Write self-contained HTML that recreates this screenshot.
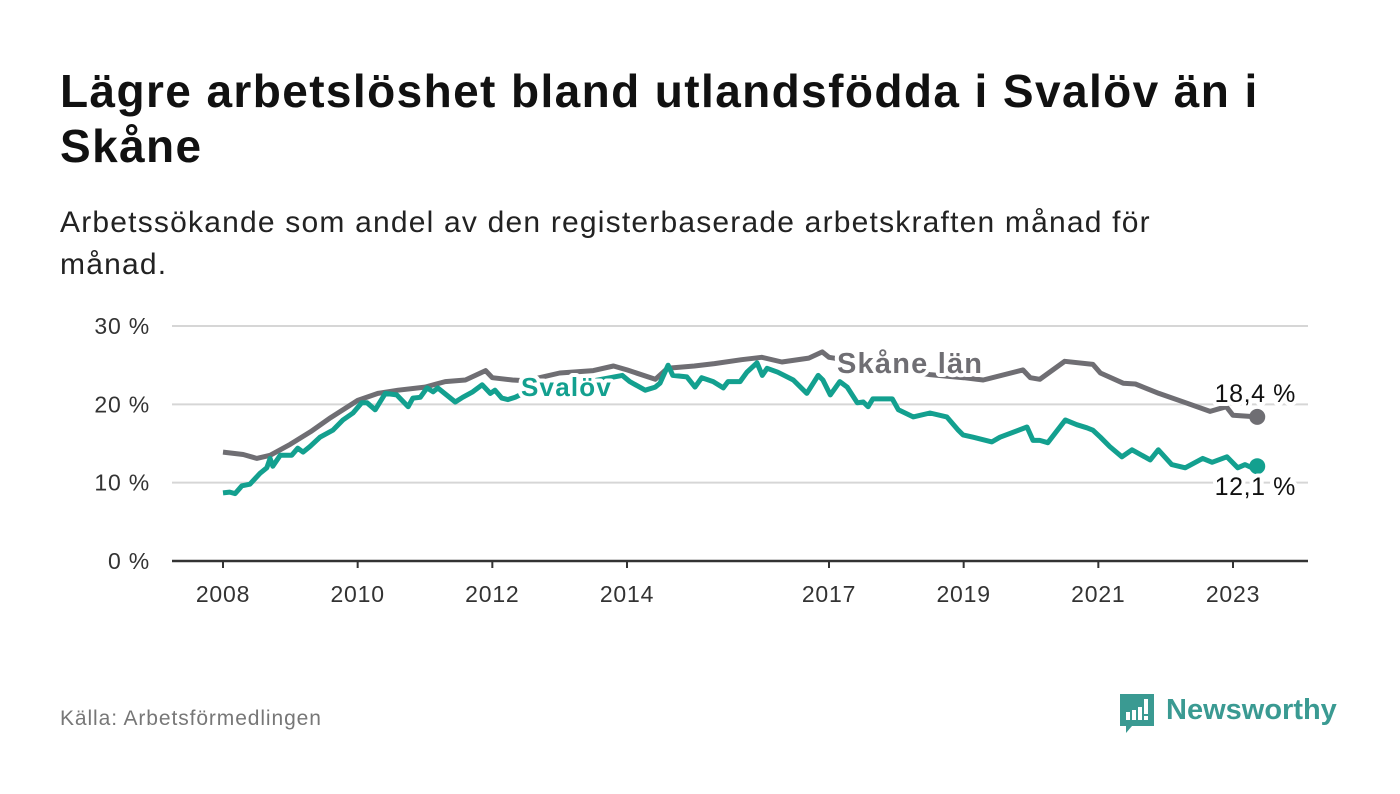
<!DOCTYPE html>
<html><head><meta charset="utf-8"><style>
body{margin:0;background:#fff;width:1400px;height:794px;overflow:hidden;font-family:"Liberation Sans",sans-serif;}
h1{position:absolute;left:60px;top:64px;margin:0;font-size:46px;letter-spacing:1.4px;line-height:55px;font-weight:bold;color:#111;width:1240px;}
.sub{position:absolute;left:60px;top:202px;font-size:30px;letter-spacing:1.2px;line-height:42px;color:#222;width:1200px;}
.src{position:absolute;left:60px;top:707px;font-size:21px;letter-spacing:0.9px;color:#777;}
svg{position:absolute;left:0;top:0;}
</style></head><body>
<h1>Lägre arbetslöshet bland utlandsfödda i Svalöv än i Skåne</h1>
<div class="sub">Arbetssökande som andel av den registerbaserade arbetskraften månad för månad.</div>
<div class="src">Källa: Arbetsförmedlingen</div>
<svg id="chart" width="1400" height="794">
<g>
<path d="M1120 694 h34 v32 h-22 l-6 7 v-7 h-6 z" fill="#3a9a92"/>
<rect x="1126" y="712" width="4" height="8" fill="#fff"/><rect x="1132" y="710" width="4" height="10" fill="#fff"/><rect x="1138" y="707" width="4" height="13" fill="#fff"/><rect x="1144" y="699" width="4" height="15" fill="#fff"/><rect x="1144" y="716" width="4" height="4" fill="#fff"/>
<text x="1166" y="719" font-size="29" font-weight="bold" fill="#3a9a92" font-family="Liberation Sans, sans-serif">Newsworthy</text>
</g>
</svg>
<script>
const yTicks=[0,10,20,30];
const xTicks=[2008,2010,2012,2014,2017,2019,2021,2023];
const skaneDates=[2008.0,2008.3,2008.5,2008.7,2009.0,2009.3,2009.6,2010.0,2010.3,2010.6,2011.0,2011.3,2011.6,2011.9,2012.0,2012.3,2012.5,2013.0,2013.5,2013.8,2014.0,2014.42,2014.6,2015.0,2015.3,2015.7,2016.0,2016.3,2016.7,2016.9,2017.0,2017.5,2018.0,2018.5,2019.0,2019.29,2019.88,2019.99,2020.13,2020.5,2020.92,2021.03,2021.37,2021.55,2021.9,2022.3,2022.66,2022.9,2023.0,2023.36];
const skaneVals=[13.9,13.6,13.1,13.5,14.9,16.5,18.3,20.5,21.4,21.8,22.2,22.9,23.1,24.3,23.4,23.1,23.0,24.0,24.3,24.9,24.4,23.2,24.6,24.9,25.2,25.7,26.0,25.4,25.9,26.7,26.0,25.3,24.5,23.8,23.4,23.1,24.4,23.4,23.2,25.5,25.1,24.0,22.7,22.6,21.4,20.2,19.1,19.7,18.6,18.4];
const svalovDates=[2008.0,2008.10,2008.18,2008.28,2008.40,2008.55,2008.65,2008.70,2008.74,2008.85,2009.02,2009.11,2009.19,2009.29,2009.44,2009.63,2009.78,2009.93,2010.06,2010.14,2010.26,2010.41,2010.58,2010.75,2010.82,2010.93,2011.03,2011.12,2011.19,2011.45,2011.56,2011.71,2011.85,2011.97,2012.04,2012.14,2012.23,2012.34,2012.6,2013.0,2013.5,2013.93,2014.04,2014.27,2014.42,2014.49,2014.61,2014.68,2014.89,2015.01,2015.11,2015.28,2015.43,2015.50,2015.68,2015.78,2015.93,2016.01,2016.08,2016.24,2016.47,2016.67,2016.84,2016.91,2017.02,2017.16,2017.27,2017.42,2017.51,2017.58,2017.65,2017.94,2018.03,2018.25,2018.50,2018.75,2018.92,2018.99,2019.14,2019.42,2019.54,2019.94,2020.03,2020.13,2020.25,2020.51,2020.68,2020.83,2020.92,2021.03,2021.17,2021.35,2021.50,2021.77,2021.89,2022.09,2022.29,2022.55,2022.69,2022.91,2023.07,2023.18,2023.28,2023.36];
const svalovVals=[8.7,8.8,8.6,9.6,9.8,11.2,11.9,13.1,12.1,13.5,13.5,14.4,13.9,14.6,15.8,16.7,18.0,18.9,20.2,20.2,19.3,21.4,21.2,19.7,20.8,20.9,22.1,21.6,22.1,20.3,20.9,21.6,22.5,21.4,21.8,20.8,20.6,20.9,22.0,22.5,23.0,23.7,22.9,21.8,22.2,22.7,25.0,23.7,23.5,22.2,23.4,22.9,22.1,22.9,22.9,24.1,25.3,23.7,24.6,24.1,23.1,21.4,23.7,23.1,21.2,22.9,22.2,20.2,20.3,19.7,20.7,20.7,19.3,18.4,18.9,18.4,16.7,16.1,15.8,15.2,15.8,17.1,15.4,15.4,15.1,18.0,17.4,17.0,16.7,15.8,14.6,13.3,14.2,12.9,14.2,12.3,11.9,13.1,12.6,13.3,11.9,12.3,11.9,12.1];
const NS='http://www.w3.org/2000/svg';
const svg=document.getElementById('chart');
const X=t=>223+(t-2008)*(1010/15);
const Y=v=>561-v*(235/30);
function mk(tag,attrs,txt){const e=document.createElementNS(NS,tag);for(const k in attrs)e.setAttribute(k,attrs[k]);if(txt!==undefined)e.textContent=txt;svg.appendChild(e);return e;}
yTicks.forEach(v=>{
 if(v>0){const g=mk('line',{x1:172,x2:1308,y1:Y(v),y2:Y(v),stroke:'#d6d6d6','stroke-width':2});
 
 }
 const t=mk('text',{x:150,y:Y(v)+8,'text-anchor':'end','font-size':23,'letter-spacing':0.8,fill:'#333'},v+' %');
 
 
});
const ax=mk('line',{x1:172,x2:1308,y1:561,y2:561,stroke:'#333','stroke-width':2.5});


xTicks.forEach(yr=>{
 const tk=mk('line',{x1:X(yr),x2:X(yr),y1:561,y2:568,stroke:'#333','stroke-width':2});
 
 
 const t=mk('text',{x:X(yr),y:602,'text-anchor':'middle','font-size':23,'letter-spacing':0.8,fill:'#333'},yr);
 
 
});
function line(d,v,col,name){
 const p=d.map((t,i)=>(i?'L':'M')+X(t).toFixed(1)+' '+Y(v[i]).toFixed(1)).join(' ');
 const e=mk('path',{d:p,fill:'none',stroke:col,'stroke-width':5,'stroke-linejoin':'round'});
 
 
 const n=d.length-1;
 const c=mk('circle',{cx:X(d[n]),cy:Y(v[n]),r:8,fill:col});
 
 
}
line(skaneDates,skaneVals,'#6f6e73','skane-line');
line(svalovDates,svalovVals,'#13a08f','svalov-line');
function lbl(x,y,txt,col,size,w,ls,name,anchor){
 const t=mk('text',{x:x,y:y,'font-size':size,'font-weight':w,'letter-spacing':ls,fill:col,stroke:'#fff','stroke-width':8,'paint-order':'stroke','stroke-linejoin':'round','text-anchor':anchor||'start'},txt);
 
 
}
lbl(837,373,'Skåne län','#6f6e73',29,'bold',1.2,'skane-series-label');
lbl(521,396,'Svalöv','#13a08f',26,'bold',1.2,'svalov-series-label');
lbl(1296,402,skaneVals[skaneVals.length-1].toFixed(1).replace('.',',')+' %','#111',25,'normal',0.6,'skane-end-value','end');
lbl(1296,495,svalovVals[svalovVals.length-1].toFixed(1).replace('.',',')+' %','#111',25,'normal',0.6,'svalov-end-value','end');
</script>
</body></html>
